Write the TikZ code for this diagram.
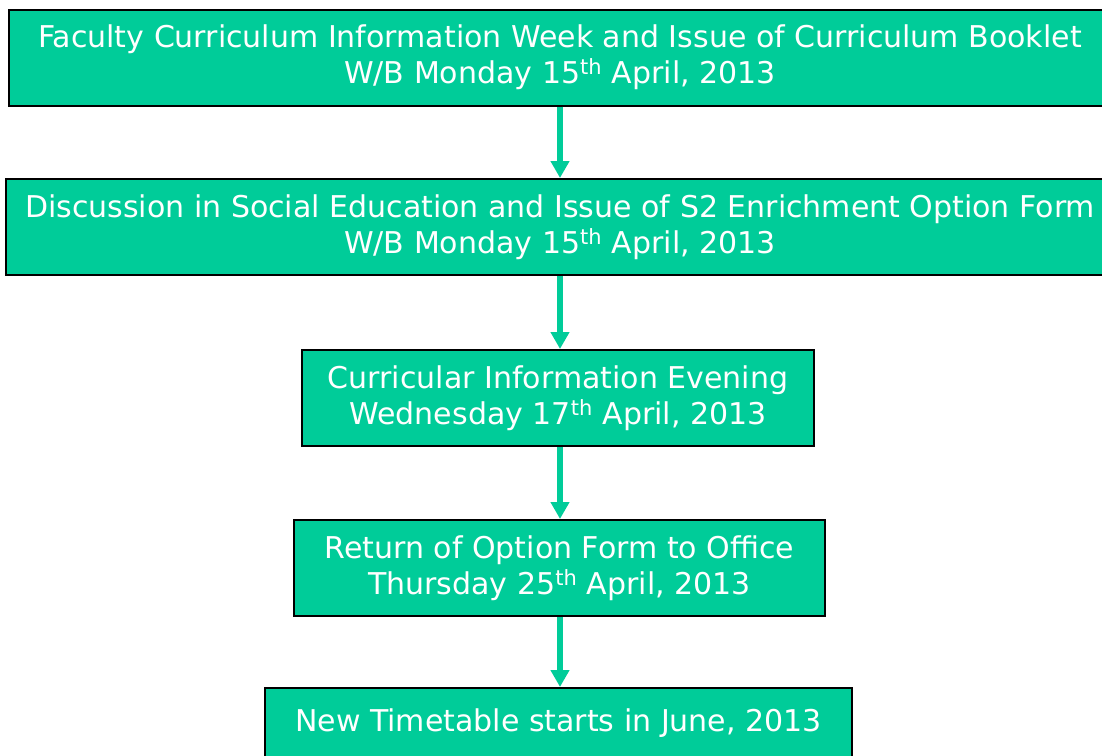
\documentclass[tikz,border=0pt]{standalone}
\usepackage{fontspec}
\setmainfont{DejaVu Sans}
\usetikzlibrary{arrows.meta}
\definecolor{boxgreen}{HTML}{00CC99}
\tikzset{
  x=1pt, y=-1pt,
  stage/.style={draw=black, line width=2pt, fill=boxgreen, text=white, align=center,
    font=\fontsize{30}{36}\selectfont, inner sep=0pt, minimum height=96pt},
  flow/.style={draw=boxgreen, line width=6pt, -{Triangle[width=18pt,length=17pt]}}
}
\begin{document}
\begin{tikzpicture}
\useasboundingbox (0,0) rectangle (1102,755);
\coordinate (ax) at (560,0);
\node[stage, minimum width=1102pt] (b1) at (560,57.5)
  {Faculty Curriculum Information Week and Issue of Curriculum Booklet\\W/B Monday 15\textsuperscript{th} April, 2013};
\node[stage, minimum width=1108pt] (b2) at (560,227)
  {Discussion in Social Education and Issue of S2 Enrichment Option Form\\W/B Monday 15\textsuperscript{th} April, 2013};
\node[stage, minimum width=512pt] (b3) at (558,398)
  {Curricular Information Evening\\Wednesday 17\textsuperscript{th} April, 2013};
\node[stage, minimum width=531pt] (b4) at (559.5,568)
  {Return of Option Form to Office\\Thursday 25\textsuperscript{th} April, 2013};
\node[stage, minimum width=587pt, minimum height=104pt, text height=22pt, text depth=40pt] (b5) at (558.5,740)
  {New Timetable starts in June, 2013};
\draw[flow] (b1.south -| ax) -- (b2.north -| ax);
\draw[flow] (b2.south -| ax) -- (b3.north -| ax);
\draw[flow] (b3.south -| ax) -- (b4.north -| ax);
\draw[flow] (b4.south -| ax) -- (b5.north -| ax);
\end{tikzpicture}
\end{document}
